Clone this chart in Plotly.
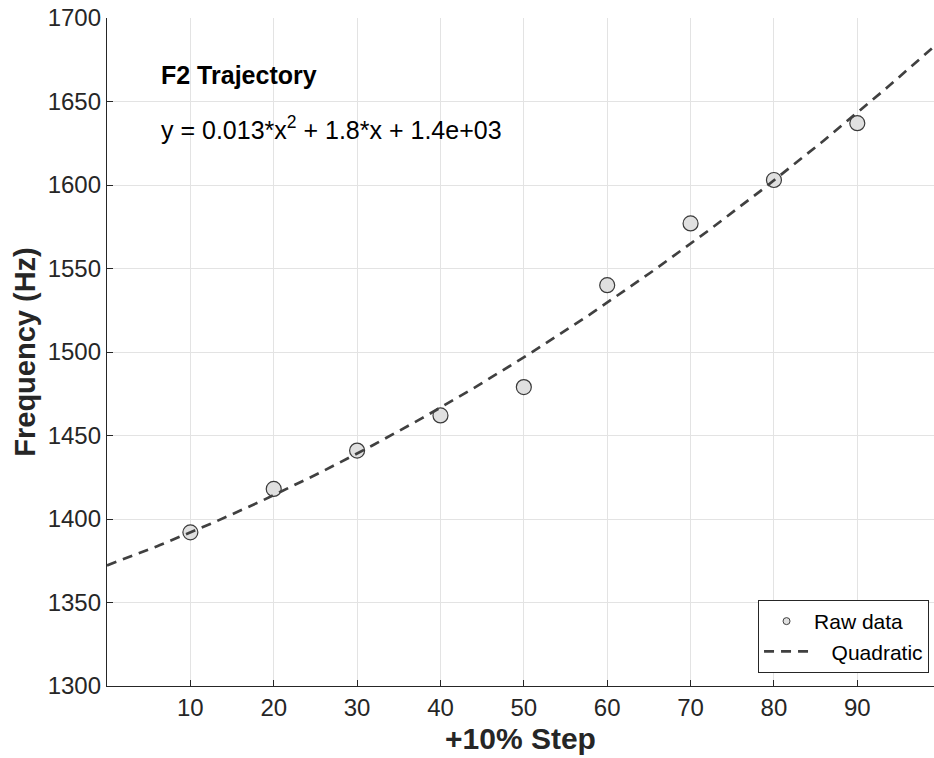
import numpy as np
import plotly.graph_objects as go

# Raw F2 measurements per +10% step
steps = [10, 20, 30, 40, 50, 60, 70, 80, 90]
f2_hz = [1392, 1418, 1441, 1462, 1479, 1540, 1577, 1603, 1637]

x_ticks = [10, 20, 30, 40, 50, 60, 70, 80, 90]
y_ticks = [1300, 1350, 1400, 1450, 1500, 1550, 1600, 1650, 1700]

# Quadratic least-squares fit of the raw data
coef = np.polyfit(steps, f2_hz, 2)
x_fit = np.linspace(0, 100, 300)
y_fit = np.polyval(coef, x_fit)

FONT = "Liberation Sans, Arial, sans-serif"
INK = "#262626"

fig = go.Figure()

# legend entry for the raw data (small symbol)
fig.add_trace(go.Scatter(
    x=[None], y=[None], mode="markers", name="Raw data",
    marker=dict(size=7, color="#e0e0e0", line=dict(color="#404040", width=1)),
))
fig.add_trace(go.Scatter(
    x=steps, y=f2_hz, mode="markers", showlegend=False,
    marker=dict(size=15, color="#e0e0e0", line=dict(color="#3a3a3a", width=1.2)),
))
fig.add_trace(go.Scatter(
    x=x_fit, y=y_fit, mode="lines", name="\u00a0\u00a0\u00a0Quadratic",
    line=dict(color="#404040", width=2.7, dash="10px,7px"),
))

fig.add_annotation(
    xref="paper", yref="paper", x=0.063, y=0.915, xanchor="left", yanchor="middle",
    text="<b>F2 Trajectory</b>", showarrow=False,
    font=dict(family=FONT, size=25, color="#000000"),
)
fig.add_annotation(
    xref="paper", yref="paper", x=0.063, y=0.835, xanchor="left", yanchor="middle",
    text="y = 0.013*x<sup>2</sup> + 1.8*x + 1.4e+03", showarrow=False,
    font=dict(family=FONT, size=25, color="#000000"),
)

axis_common = dict(
    showgrid=True, gridcolor="#e3e3e3", gridwidth=1,
    showline=True, linecolor=INK, linewidth=1.3,
    ticks="inside", ticklen=6, tickwidth=1.2, tickcolor=INK,
    tickfont=dict(family=FONT, size=24, color=INK),
    zeroline=False,
)

fig.update_xaxes(
    range=[0, 99.2], tickvals=x_ticks,
    title=dict(text="<b>+10% Step</b>", font=dict(family=FONT, size=30, color=INK), standoff=8),
    **axis_common,
)
fig.update_yaxes(
    range=[1300, 1700], tickvals=y_ticks,
    title=dict(text="<b>Frequency (Hz)</b>", font=dict(family=FONT, size=29, color=INK), standoff=3),
    **axis_common,
)

fig.update_layout(
    width=934, height=758,
    margin=dict(l=107, r=0, t=18, b=72),
    paper_bgcolor="white", plot_bgcolor="white",
    font=dict(family=FONT, color=INK),
    legend=dict(
        x=0.994, y=0.0195, xanchor="right", yanchor="bottom",
        bgcolor="white", bordercolor=INK, borderwidth=1,
        font=dict(family=FONT, size=21, color="#000000"),
        tracegroupgap=0, itemwidth=45,
    ),
)

fig.write_html("out.html")
